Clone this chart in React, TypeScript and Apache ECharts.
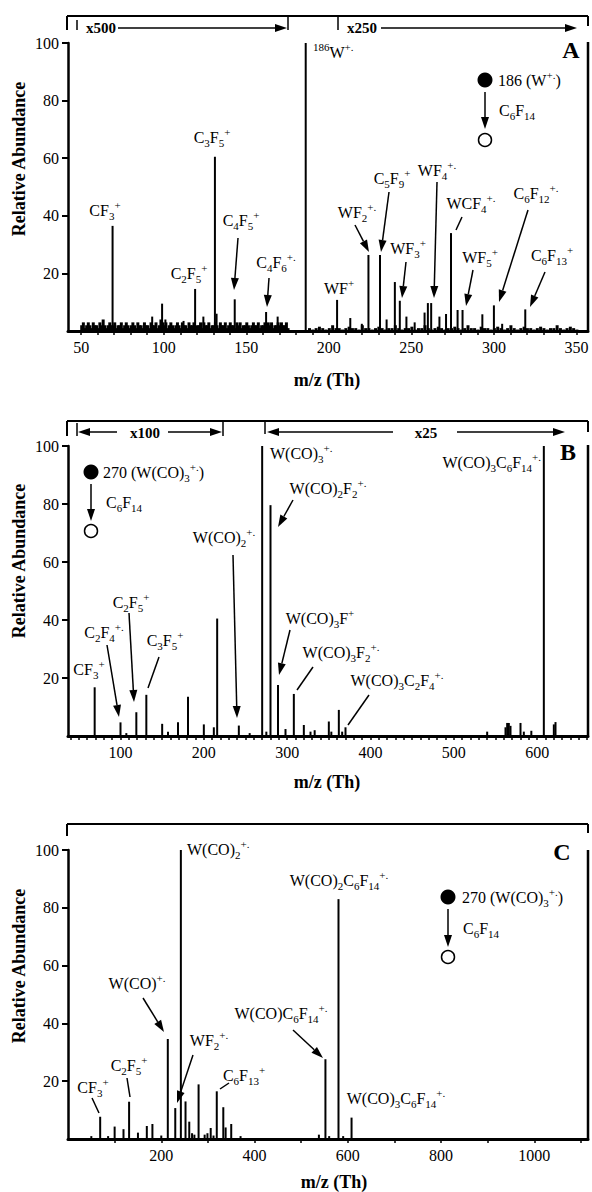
import React, { useEffect, useRef } from "react";
import * as echarts from "echarts";

const FONT = '"Liberation Serif", "Times New Roman", Times, serif';

// ---------------- Panel A (m/z 50-350) ----------------
const peakMzA = [69, 93, 99, 101, 112, 119, 124, 131, 132, 143, 162, 169, 186, 205, 213, 220, 224, 231, 235, 240, 243, 247, 252, 258, 260, 262, 267, 271, 274, 278, 281, 293, 300, 305, 319];
const peakAbA = [36.5, 5, 9.5, 4, 3.5, 14.6, 5, 60.5, 6, 11, 6.6, 5, 100, 10.8, 4.5, 2.5, 26.4, 26.4, 4, 17, 10.5, 5, 3, 6.4, 9.7, 9.7, 5, 5.9, 34, 7.3, 7.3, 5.8, 8.9, 2.5, 7.5];
// baseline noise, x500 region, one value per m/z from 50
const noiseStartA1 = 50;
const noiseA1 = [2, 3, 1, 2, 3, 2, 1, 3, 2, 2, 1, 3, 2, 4, 2, 1, 2, 3, 2, 2, 3, 1, 2, 2, 3, 1, 2, 3, 2, 1, 2, 3, 2, 1, 3, 2, 2, 1, 3, 2, 2, 1, 3, 2, 2, 3, 1, 2, 4, 3, 2, 3, 1, 2, 3, 2, 1, 2, 3, 2, 1, 3, 2, 2, 1, 3, 2, 2, 3, 1, 2, 2, 3, 1, 3, 2, 2, 3, 1, 2, 2, 3, 2, 1, 3, 2, 2, 3, 1, 2, 3, 2, 2, 1, 3, 2, 3, 1, 2, 2, 3, 2, 1, 2, 3, 2, 2, 3, 1, 2, 2, 3, 2, 3, 2, 3, 1, 2, 2, 3, 2, 3, 2, 2, 3, 1];
// baseline noise, x250 region, one value every 2 m/z from 188
const noiseStartA2 = 188;
const noiseA2 = [1, 0.5, 1, 1.5, 1, 0.5, 1, 2, 1, 1, 0.5, 1, 1.5, 1, 1, 0.5, 2, 1, 1, 0.5, 1, 1.5, 1, 0.5, 1, 1, 2, 1, 0.5, 1, 1, 1.5, 0.5, 1, 1, 2, 1, 0.5, 1, 1.5, 1, 0.5, 1, 1, 1.5, 1, 0.5, 1, 2, 1, 1, 0.5, 1.5, 1, 1, 0.5, 1, 1.5, 1, 0.5, 1, 2, 1, 0.5, 1, 1.5, 1, 1, 0.5, 1, 1.5, 1, 0.5, 1, 1, 2, 1, 0.5, 1, 1.5, 1, 0.5];
const labelsA = [50, 100, 150, 200, 250, 300, 350];

// ---------------- Panel B (m/z 40-660) ----------------
const peakMzB = [69, 100, 107, 119, 131, 150, 157, 169, 181, 200, 212, 216, 242, 255, 270, 275, 280, 289, 298, 308, 320, 328, 333, 350, 353, 362, 366, 370, 540, 562, 564, 566, 568, 580, 584, 593, 608, 620, 622];
const peakAbB = [16.8, 4.7, 1, 8.2, 14.2, 4.2, 1.5, 4.7, 13.5, 4, 3, 40.5, 3.6, 1, 100, 1.5, 79.6, 17.6, 2.4, 14.5, 3.8, 1.5, 2, 5, 1.5, 9, 1.5, 3, 1.5, 3, 4.5, 4.5, 3.5, 4.5, 1.5, 1.8, 100, 4, 4.8];
const labelsB = [100, 200, 300, 400, 500, 600];

// ---------------- Panel C (m/z 0-1115) ----------------
const peakMzC = [50, 69, 86, 100, 119, 131, 150, 169, 181, 200, 214, 230, 242, 252, 260, 266, 271, 280, 293, 299, 306, 312, 319, 333, 338, 350, 370, 538, 552, 560, 580, 590, 608];
const peakAbC = [1, 7.7, 1, 4.3, 3.4, 12.9, 2.2, 4.5, 5.2, 1.2, 34.6, 10.7, 100, 13, 6, 2, 1.5, 18.9, 1.5, 2, 3.8, 1.2, 16.5, 11, 4, 5.2, 1, 1.5, 27.6, 1, 83, 1, 7.4];
const labelsC = [200, 400, 600, 800, 1000];

const yLabels = [20, 40, 60, 80, 100];

function range(a: number, b: number, s: number) {
  const r: number[] = [];
  for (let v = a; v <= b + 1e-9; v += s) r.push(v);
  return r;
}

const RICH = {
  s: { fontSize: 11, fontFamily: FONT, lineHeight: 11, verticalAlign: "bottom", fill: "#000" },
  p: { fontSize: 11, fontFamily: FONT, lineHeight: 11, verticalAlign: "top", fill: "#000" },
};

function txt(x: number, y: number, text: string, align = "center", extra: any = {}) {
  return {
    type: "text",
    x,
    y,
    silent: true,
    z: 100,
    style: {
      text,
      fill: "#000",
      fontFamily: FONT,
      fontSize: 16,
      lineHeight: 22,
      align,
      textAlign: align,
      verticalAlign: "middle",
      textVerticalAlign: "middle",
      rich: RICH,
      ...extra,
    },
  };
}

function ln(x1: number, y1: number, x2: number, y2: number, w = 1.5) {
  return { type: "line", silent: true, z: 100, shape: { x1, y1, x2, y2 }, style: { stroke: "#000", lineWidth: w } };
}

function arrow(x1: number, y1: number, x2: number, y2: number, head = true, L = 12, W = 4) {
  const out: any[] = [];
  const dx = x2 - x1, dy = y2 - y1;
  const len = Math.sqrt(dx * dx + dy * dy);
  const ux = dx / len, uy = dy / len;
  const bx = x2 - ux * L, by = y2 - uy * L;
  out.push(ln(x1, y1, head ? bx : x2, head ? by : y2, 1.5));
  if (head) {
    out.push({
      type: "polygon",
      silent: true,
      z: 100,
      shape: { points: [[x2, y2], [bx - uy * W, by + ux * W], [bx + uy * W, by - ux * W]] },
      style: { fill: "#000" },
    });
  }
  return out;
}

function dot(cx: number, cy: number, filled: boolean) {
  return {
    type: "circle",
    silent: true,
    z: 100,
    shape: { cx, cy, r: filled ? 7.5 : 6.5 },
    style: filled ? { fill: "#000" } : { fill: "#fff", stroke: "#000", lineWidth: 1.5 },
  };
}

function bold(x: number, y: number, text: string, size: number, align = "center") {
  return txt(x, y, text, align, { fontWeight: "bold", fontSize: size, lineHeight: size + 2 });
}

function yTitle(y: number) {
  return { ...bold(19, y, "Relative Abundance", 18), rotation: Math.PI / 2 };
}

function makeGraphics() {
  const g: any[] = [];
  // ---------- Panel A ----------
  g.push(ln(67, 16, 588, 16, 2), ln(67, 16, 67, 30, 2), ln(77, 20, 77, 30, 1.5), ln(288, 16, 288, 30, 1.5), ln(338, 16, 338, 30, 1.5), ln(588, 16, 588, 26, 2));
  g.push(bold(86, 28, "x500", 15, "left"), ...arrow(118, 28, 287, 28));
  g.push(bold(347, 28, "x250", 15, "left"), ...arrow(381, 28, 577, 28));
  g.push(ln(588, 42, 588, 331, 2.5));
  g.push(bold(571, 50, "A", 24));
  g.push(yTitle(159), bold(327, 380, "m/z (Th)", 18));
  g.push(txt(105, 210, "CF{s|3}{p|+}"));
  g.push(txt(189, 273, "C{s|2}F{s|5}{p|+}"));
  g.push(txt(212, 137, "C{s|3}F{s|5}{p|+}"));
  g.push(txt(241, 220, "C{s|4}F{s|5}{p|+}"), ...arrow(238, 238, 234, 290));
  g.push(txt(276, 262, "C{s|4}F{s|6}{p|+.}"), ...arrow(269, 278, 267, 307));
  g.push(txt(313, 52, "{p|186}W{p|+.}", "left"));
  g.push(txt(339, 288, "WF{p|+}"));
  g.push(txt(357, 212, "WF{s|2}{p|+.}"), ...arrow(355, 225, 369, 252));
  g.push(txt(392, 178, "C{s|5}F{s|9}{p|+}"), ...arrow(389, 192, 381, 252));
  g.push(txt(408, 248, "WF{s|3}{p|+}"), ...arrow(406, 262, 402, 298));
  g.push(txt(437, 170, "WF{s|4}{p|+.}"), ...arrow(437, 182, 434, 298));
  g.push(txt(471, 203, "WCF{s|4}{p|+.}"), ...arrow(462, 217, 456, 230, false));
  g.push(txt(480, 257, "WF{s|5}{p|+}"), ...arrow(473, 270, 466, 306));
  g.push(txt(536, 193, "C{s|6}F{s|12}{p|+.}"), ...arrow(528, 210, 499, 302));
  g.push(txt(552, 255, "C{s|6}F{s|13}{p|+}"), ...arrow(545, 272, 530, 307));
  g.push(dot(485, 80, true), txt(498, 80, "186 (W{p|+.})", "left"), ...arrow(485, 92, 485, 129), txt(499, 110, "C{s|6}F{s|14}", "left"), dot(485, 140, false));

  // ---------- Panel B ----------
  g.push(ln(67, 421, 588, 421, 2), ln(67, 421, 67, 436, 2), ln(77, 423, 77, 436, 1.5), ln(223, 421, 223, 436, 1.5), ln(265, 421, 265, 434, 1.5), ln(588, 421, 588, 432, 2));
  g.push(...arrow(117, 432, 78, 432), ...arrow(168, 432, 222, 432), bold(145, 433, "x100", 15));
  g.push(...arrow(393, 432, 267, 432), ...arrow(457, 432, 565, 432), bold(426, 433, "x25", 15));
  g.push(ln(588, 445, 588, 736, 2.5));
  g.push(bold(568, 452, "B", 24));
  g.push(yTitle(561), bold(327, 782, "m/z (Th)", 18));
  g.push(dot(91, 472, true), txt(103, 472, "270 (W(CO){s|3}{p|+.})", "left"), ...arrow(91, 484, 91, 521), txt(106, 502, "C{s|6}F{s|14}", "left"), dot(91, 531, false));
  g.push(txt(224, 537, "W(CO){s|2}{p|+.}"), ...arrow(233, 555, 237, 718));
  g.push(txt(270, 453, "W(CO){s|3}{p|+.}", "left"));
  g.push(txt(328, 488, "W(CO){s|2}F{s|2}{p|+.}"), ...arrow(293, 500, 278, 527));
  g.push(txt(541, 462, "W(CO){s|3}C{s|6}F{s|14}{p|+.}", "right"));
  g.push(txt(89, 669, "CF{s|3}{p|+}"));
  g.push(txt(104, 632, "C{s|2}F{s|4}{p|+.}"), ...arrow(107, 645, 119, 717));
  g.push(txt(131, 602, "C{s|2}F{s|5}{p|+}"), ...arrow(129, 613, 134, 702));
  g.push(txt(165, 640, "C{s|3}F{s|5}{p|+}"), ...arrow(159, 657, 148, 688, false));
  g.push(txt(320, 618, "W(CO){s|3}F{p|+}"), ...arrow(290, 630, 279, 675));
  g.push(txt(341, 652, "W(CO){s|3}F{s|2}{p|+.}"), ...arrow(313, 667, 297, 690, false));
  g.push(txt(397, 680, "W(CO){s|3}C{s|2}F{s|4}{p|+.}"), ...arrow(369, 695, 348, 725, false));

  // ---------- Panel C ----------
  g.push(ln(67, 824, 588, 824, 2), ln(67, 824, 67, 836, 2), ln(588, 824, 588, 833, 2));
  g.push(ln(588, 850, 588, 1139, 2.5));
  g.push(bold(562, 852, "C", 24));
  g.push(yTitle(966), bold(334, 1182, "m/z (Th)", 18));
  g.push(txt(187, 849, "W(CO){s|2}{p|+.}", "left"));
  g.push(txt(339, 880, "W(CO){s|2}C{s|6}F{s|14}{p|+.}"));
  g.push(dot(448, 897, true), txt(462, 897, "270 (W(CO){s|3}{p|+.})", "left"), ...arrow(448, 909, 448, 947), txt(463, 928, "C{s|6}F{s|14}", "left"), dot(448, 957, false));
  g.push(txt(137, 983, "W(CO){p|+.}"), ...arrow(143, 998, 164, 1032));
  g.push(txt(209, 1040, "WF{s|2}{p|+.}"), ...arrow(193, 1055, 177, 1103));
  g.push(txt(93, 1087, "CF{s|3}{p|+}"), ...arrow(92, 1098, 99, 1113, false));
  g.push(txt(129, 1065, "C{s|2}F{s|5}{p|+}"), ...arrow(127, 1078, 130, 1097, false));
  g.push(txt(244, 1075, "C{s|6}F{s|13}{p|+}"), ...arrow(229, 1083, 220, 1089, false));
  g.push(txt(281, 1013, "W(CO)C{s|6}F{s|14}{p|+.}"), ...arrow(293, 1030, 323, 1058));
  g.push(txt(396, 1098, "W(CO){s|3}C{s|6}F{s|14}{p|+.}"));
  return g;
}

function xAxisCfg(grid: number, min: number, max: number, ticks: number[], labels: number[]) {
  return {
    type: "value",
    gridIndex: grid,
    min,
    max,
    axisLine: { show: true, onZero: false, lineStyle: { color: "#000", width: 3 } },
    axisTick: { show: true, customValues: ticks, length: 4, lineStyle: { color: "#000", width: 1.5 } },
    axisLabel: {
      customValues: labels,
      formatter: (v: number) => String(v),
      color: "#000",
      fontFamily: FONT,
      fontSize: 16,
      margin: 8,
    },
    splitLine: { show: false },
  };
}

function yAxisCfg(grid: number) {
  return {
    type: "value",
    gridIndex: grid,
    min: 0,
    max: 100,
    axisLine: { show: true, lineStyle: { color: "#000", width: 2.5 } },
    axisTick: { show: true, customValues: yLabels, length: 6, lineStyle: { color: "#000", width: 2 } },
    axisLabel: {
      customValues: yLabels,
      formatter: (v: number) => String(v),
      color: "#000",
      fontFamily: FONT,
      fontSize: 16,
      margin: 9,
    },
    splitLine: { show: false },
  };
}

function barSeries(idx: number, data: number[][], width = 2) {
  return {
    type: "bar",
    xAxisIndex: idx,
    yAxisIndex: idx,
    data,
    barWidth: width,
    barGap: "-100%",
    itemStyle: { color: "#000" },
    emphasis: { disabled: true },
    silent: true,
  };
}

export default function App() {
  const ref = useRef<HTMLDivElement>(null);
  useEffect(() => {
    if (!ref.current) return;
    const chart = echarts.init(ref.current, undefined, { renderer: "svg" });
    const noiseA: number[][] = [];
    noiseA1.forEach((v, i) => noiseA.push([noiseStartA1 + i, v]));
    noiseA2.forEach((v, i) => noiseA.push([noiseStartA2 + 2 * i, v]));
    const dataA = peakMzA.map((m, i) => [m, peakAbA[i]]);
    const dataB = peakMzB.map((m, i) => [m, peakAbB[i]]);
    const dataC = peakMzC.map((m, i) => [m, peakAbC[i]]);
    chart.setOption({
      animation: false,
      backgroundColor: "#fff",
      grid: [
        { left: 68, top: 43, width: 520, height: 288 },
        { left: 68, top: 446, width: 520, height: 290 },
        { left: 68, top: 850, width: 520, height: 289 },
      ],
      xAxis: [
        xAxisCfg(0, 42, 357, range(50, 350, 10), labelsA),
        xAxisCfg(1, 37, 661, range(40, 660, 10), labelsB),
        xAxisCfg(2, 0, 1115, range(100, 1100, 100), labelsC),
      ],
      yAxis: [yAxisCfg(0), yAxisCfg(1), yAxisCfg(2)],
      series: [
        barSeries(0, noiseA, 3),
        barSeries(0, dataA, 2),
        barSeries(1, dataB, 2),
        barSeries(2, dataC, 2),
      ],
      graphic: { elements: makeGraphics() },
    });
    return () => chart.dispose();
  }, []);
  return (
    <div
      ref={ref}
      style={{ position: "absolute", left: 0, top: 0, width: 592, height: 1192, background: "#fff" }}
    />
  );
}
